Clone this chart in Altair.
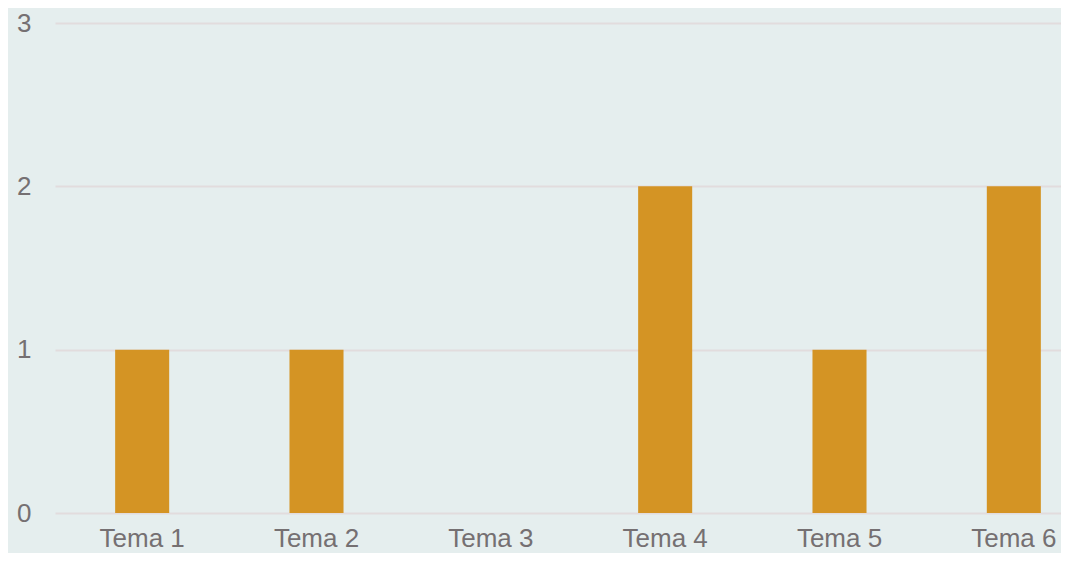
import altair as alt
import pandas as pd

categories = ["Tema 1", "Tema 2", "Tema 3", "Tema 4", "Tema 5", "Tema 6"]
values = [1, 1, 0, 2, 1, 2]

df = pd.DataFrame({"tema": categories, "valor": values})

FONT = "Liberation Sans"
TXT = "#757072"

chart = (
    alt.Chart(df)
    .mark_bar(color="#D49424")
    .encode(
        x=alt.X(
            "tema:N",
            sort=categories,
            scale=alt.Scale(range=[0, 1046], paddingInner=0.69, paddingOuter=0.345),
            axis=alt.Axis(
                title=None, labelAngle=0, domain=False, ticks=False, grid=False,
                labelFont=FONT, labelFontSize=26, labelColor=TXT,
                labelBaseline="alphabetic", labelPadding=33,
            ),
        ),
        y=alt.Y(
            "valor:Q",
            scale=alt.Scale(domain=[0, 3], nice=False),
            axis=alt.Axis(
                title=None, values=[0, 1, 2, 3], domain=False, ticks=False,
                grid=True, gridColor="#E2DCDD", gridWidth=2,
                labelFont=FONT, labelFontSize=26, labelColor=TXT, labelPadding=24,
            ),
        ),
    )
    .properties(
        width=1006,
        height=490,
        autosize=alt.AutoSizeParams(type="none"),
        padding={"left": 47, "top": 15, "right": 0, "bottom": 40},
        background="#E5EEEE",
    )
    .configure_view(stroke=None)
)

chart.save("out.html", embed_options={"renderer": "svg", "actions": False})
